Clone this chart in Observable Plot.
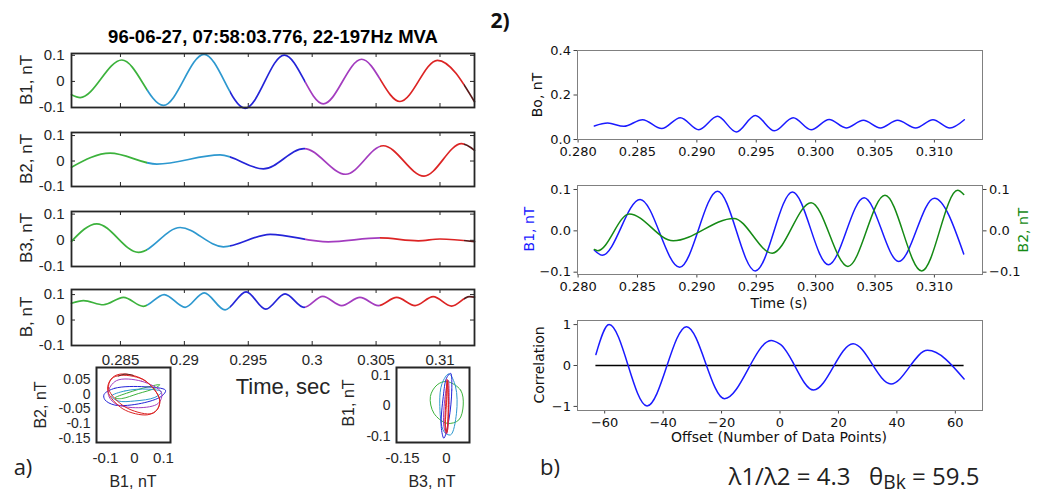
<!DOCTYPE html>
<html><head><meta charset="utf-8">
<script src="https://cdn.jsdelivr.net/npm/d3@7"></script>
<script src="https://cdn.jsdelivr.net/npm/@observablehq/plot@0.6"></script>
<style>
html,body{margin:0;padding:0;background:#fff;}
#root{position:relative;width:1043px;height:501px;overflow:hidden;background:#fff;}
.t{position:absolute;white-space:nowrap;line-height:1;}
.ml{font-family:"Liberation Sans",Arial,sans-serif;color:#262626;}
.mp{font-family:"DejaVu Sans",sans-serif;color:#111;}
.os{font-family:"Open Sans",sans-serif;color:#222;}
</style></head>
<body><div id="root"></div>
<script>
// ================= DATA =================
// colour segments (time order) used in panel a)
const segNames = ["s1", "s2", "s3", "s4", "s5", "s6"];
const segColors = ["#3cb23c", "#2d98cf", "#2424d8", "#a33cbf", "#dc2424", "#5a1a1a"];
const segBounds = [0.28117, 0.2871, 0.2936, 0.2994, 0.3053, 0.3119, 0.3127];

// panel a) axes
const timeDomainA = [0.28117, 0.3127];
const timeTicksA = [0.285, 0.29, 0.295, 0.3, 0.305, 0.31];
const fieldTicksA = [-0.1, 0, 0.1];

// panel a) waveforms (extrema read from the picture)
const b1Time = [0.28117, 0.28185, 0.28511, 0.28836, 0.29154, 0.29475, 0.29782, 0.30087, 0.30387, 0.30687, 0.3098, 0.3127];
const b1Val  = [-0.051, -0.062, 0.082, -0.092, 0.104, -0.103, 0.101, -0.086, 0.085, -0.077, 0.081, -0.078];
const b2Time = [0.28117, 0.28419, 0.28785, 0.2928, 0.29618, 0.29937, 0.30262, 0.30556, 0.30875, 0.31169, 0.3127];
const b2Val  = [-0.024, 0.031, -0.012, 0.024, -0.031, 0.049, -0.052, 0.060, -0.059, 0.068, 0.042];
const b3Time = [0.28117, 0.28315, 0.28641, 0.28967, 0.29305, 0.29671, 0.30126, 0.30531, 0.3083, 0.3100, 0.3127];
const b3Val  = [-0.004, 0.063, -0.046, 0.049, -0.025, 0.023, -0.006, 0.009, -0.002, 0.005, -0.005];
const bTime  = [0.28117, 0.28211, 0.28367, 0.28524, 0.2868, 0.28842, 0.29006, 0.29155, 0.29319, 0.29483, 0.29637, 0.29788, 0.29936, 0.30083, 0.30231, 0.30374, 0.30518, 0.30661, 0.30805, 0.30947, 0.31091, 0.3123, 0.3127];
const bVal   = [0.066, 0.076, 0.06, 0.089, 0.054, 0.1, 0.05, 0.107, 0.04, 0.111, 0.043, 0.103, 0.05, 0.093, 0.057, 0.089, 0.057, 0.089, 0.057, 0.092, 0.055, 0.092, 0.09];

// hodograms (loops): [segment, [[x, y], ...]]
const hodoB1B2 = [
  ["s1", [[-0.068,-0.013],[-0.022,0.005],[0.047,0.025],[0.087,0.032],[0.07,0.02],[0.013,0.002],[-0.045,-0.015]]],
  ["s2", [[-0.079,-0.007],[-0.033,0.011],[0.047,0.017],[0.093,0.008],[0.07,-0.011],[0.001,-0.023],[-0.056,-0.023]]],
  ["s3", [[-0.105,-0.001],[-0.068,0.02],[0.036,0.025],[0.107,0.013],[0.093,-0.007],[0.024,-0.031],[-0.068,-0.037],[-0.102,-0.019]]],
  ["s4", [[-0.062,0.046],[0.024,0.044],[0.093,0.005],[0.082,-0.031],[0.013,-0.046],[-0.068,-0.031],[-0.091,0.005]]],
  ["s5", [[-0.045,0.064],[0.036,0.046],[0.087,-0.019],[0.076,-0.055],[0.053,-0.067],[-0.033,-0.043],[-0.089,0.017],[-0.079,0.052]]],
  ["s5", [[-0.05,0.068],[0.03,0.05],[0.085,-0.012],[0.08,-0.05],[0.045,-0.07],[-0.04,-0.05],[-0.092,0.01],[-0.082,0.05]]]
];
const hodoB1B2Tail = [[-0.056,0.061],[-0.033,0.068],[-0.005,0.064]];
const hodoB3B1 = [
  ["s1", [[0.001,0.08],[0.048,0.052],[0.057,0.003],[0.042,-0.046],[0.002,-0.057],[-0.043,-0.024],[-0.055,0.031],[-0.032,0.069]]],
  ["s2", [[0.008,0.105],[0.031,0.063],[0.034,-0.024],[0.014,-0.095],[-0.009,-0.084],[-0.023,0.009],[-0.015,0.074]]],
  ["s3", [[0.014,0.107],[0.018,0.052],[0.008,-0.046],[-0.009,-0.106],[-0.018,-0.068],[-0.011,0.031],[0,0.091]]],
  ["s4", [[0.006,0.085],[0.009,0.009],[0,-0.092],[-0.009,-0.068],[-0.006,0.02]]],
  ["s5", [[0.002,0.087],[0.006,-0.002],[0,-0.09],[-0.005,-0.068],[-0.002,0.02]]],
  ["s5", [[0.004,0.08],[0.007,0],[0.002,-0.085],[-0.003,-0.07],[0,0.01]]]
];
const hodo1XTicks = [-0.1, 0, 0.1];
const hodo1YTicks = [-0.15, -0.1, -0.05, 0, 0.05];
const hodo2XTicks = [-0.15, 0];
const hodo2YTicks = [-0.1, 0, 0.1];

// panel b) axes
const timeDomainB = [0.27995, 0.31405];
const timeTicksB = [0.280, 0.285, 0.290, 0.295, 0.300, 0.305, 0.310];
const boTicks = [0.0, 0.2, 0.4];
const bTicksB = [-0.1, 0.0, 0.1];
const lagTicks = [-60, -40, -20, 0, 20, 40, 60];
const corrTicks = [-1, 0, 1];

// panel b) series (extrema read from the picture)
const boTime = [0.28137, 0.28249, 0.28385, 0.28543, 0.28704, 0.28861, 0.29016, 0.29174, 0.29332, 0.29492, 0.29653, 0.29811, 0.29962, 0.30114, 0.30257, 0.30402, 0.30545, 0.30690, 0.30842, 0.30988, 0.31130, 0.31252];
const boVal  = [0.061, 0.074, 0.059, 0.089, 0.049, 0.098, 0.044, 0.104, 0.034, 0.108, 0.039, 0.098, 0.044, 0.090, 0.052, 0.086, 0.052, 0.086, 0.052, 0.089, 0.052, 0.089];
const rB1Time = [0.28137, 0.28203, 0.28522, 0.28855, 0.29174, 0.29492, 0.29805, 0.30108, 0.30408, 0.30700, 0.31, 0.31247];
const rB1Val  = [-0.047, -0.059, 0.076, -0.088, 0.096, -0.097, 0.094, -0.082, 0.080, -0.074, 0.079, -0.056];
const rB2Time = [0.28137, 0.28165, 0.28431, 0.28801, 0.29311, 0.29635, 0.29962, 0.30272, 0.30584, 0.30893, 0.31196, 0.31247];
const rB2Val  = [-0.045, -0.048, 0.041, -0.024, 0.030, -0.054, 0.068, -0.086, 0.086, -0.097, 0.098, 0.088];
const corrLag = [-63, -58.5, -45.5, -32, -19, -3, 0, 11.5, 25, 38, 50.5, 63];
const corrVal = [0.27, 1.0, -0.99, 0.95, -0.81, 0.61, 0.52, -0.6, 0.53, -0.45, 0.37, -0.33];

// ================= RENDER =================
const root = document.getElementById("root");
function place(svg, left, top) {
  const w = +svg.getAttribute("width"), h = +svg.getAttribute("height");
  const d = document.createElement("div");
  d.style.cssText = `position:absolute;left:${left}px;top:${top}px;width:${w}px;height:${h}px;`;
  svg.style.maxWidth = "none";
  svg.style.background = "transparent";
  d.appendChild(svg);
  root.appendChild(d);
}
function text(html, x, y, cls, css = "", rot = 0) {
  const d = document.createElement("div");
  d.className = "t " + cls;
  d.innerHTML = html;
  d.style.cssText += `left:${x}px;top:${y}px;transform:translate(-50%,-50%)${rot ? ` rotate(${rot}deg)` : ""};` + css;
  root.appendChild(d);
}
const zip = (a, b) => a.map((v, i) => ({t: v, v: b[i]}));

const styleA = {fontFamily: '"Liberation Sans", Arial, sans-serif', fontSize: "15px", color: "#262626", background: "transparent", overflow: "visible"};
const styleH = {...styleA, fontSize: "13px"};
const styleB = {fontFamily: '"DejaVu Sans", sans-serif', fontSize: "13px", color: "#111", background: "transparent", overflow: "visible"};

// ---- panel a) time series ----
const AX0 = 71, AX1 = 474;
function tsPanel(times, vals, yDom, top, bottom, showX, gid) {
  const mL = 50, mR = 8, mT = 4, mB = showX ? 30 : 4;
  const fw = AX1 - AX0, fh = bottom - top;
  const p = Plot.plot({
    width: mL + fw + mR, height: mT + fh + mB,
    marginLeft: mL, marginRight: mR, marginTop: mT, marginBottom: mB,
    x: {domain: timeDomainA, axis: null}, y: {domain: yDom, axis: null},
    style: styleA,
    marks: [
      Plot.ruleX(timeTicksA, {insetTop: fh - 4, stroke: "#262626"}),
      Plot.ruleX(timeTicksA, {insetBottom: fh - 4, stroke: "#262626"}),
      Plot.ruleY(fieldTicksA, {insetRight: fw - 4, stroke: "#262626"}),
      Plot.ruleY(fieldTicksA, {insetLeft: fw - 4, stroke: "#262626"}),
      Plot.axisY(fieldTicksA, {tickSize: 0, tickPadding: 7, tickFormat: d => String(d), label: null}),
      showX ? Plot.axisX(timeTicksA, {tickSize: 0, tickPadding: 9, tickFormat: d => String(d), label: null}) : null,
      Plot.line(zip(times, vals), {x: "t", y: "v", curve: "monotone-x", stroke: `url(#${gid})`, strokeWidth: 1.7}),
      Plot.frame({stroke: "#262626", strokeWidth: 1.8})
    ]
  });
  const sx = p.scale("x");
  const x1 = sx.apply(segBounds[0]), x2 = sx.apply(segBounds[segBounds.length - 1]);
  const g = d3.select(p).insert("defs", ":first-child").append("linearGradient")
    .attr("id", gid).attr("gradientUnits", "userSpaceOnUse")
    .attr("x1", x1).attr("x2", x2).attr("y1", 0).attr("y2", 0);
  segColors.forEach((c, i) => {
    g.append("stop").attr("offset", (sx.apply(segBounds[i]) - x1) / (x2 - x1)).attr("stop-color", c);
    g.append("stop").attr("offset", (sx.apply(segBounds[i + 1]) - x1) / (x2 - x1)).attr("stop-color", c);
  });
  place(p, AX0 - mL, top - mT);
}
tsPanel(b1Time, b1Val, [-0.1, 0.107], 53, 107, false, "ga1");
tsPanel(b2Time, b2Val, [-0.1, 0.112], 132, 186, false, "ga2");
tsPanel(b3Time, b3Val, [-0.1, 0.11], 211, 266, false, "ga3");
tsPanel(bTime, bVal, [-0.1, 0.12], 289, 345, true, "ga4");

// ---- hodograms ----
function hodo(loops, tail, xDom, yDom, xTicks, yTicks, fx0, fx1, fy0, fy1) {
  const mL = 50, mR = 6, mT = 4, mB = 26;
  const fw = fx1 - fx0, fh = fy1 - fy0;
  const rows = [];
  loops.forEach(([s, pts], k) => pts.forEach(([x, y]) => rows.push({loop: k, s, x, y})));
  const tailRows = (tail || []).map(([x, y]) => ({s: "s6", x, y}));
  const p = Plot.plot({
    width: mL + fw + mR, height: mT + fh + mB,
    marginLeft: mL, marginRight: mR, marginTop: mT, marginBottom: mB,
    x: {domain: xDom, axis: null}, y: {domain: yDom, axis: null},
    color: {domain: segNames, range: segColors},
    style: styleH,
    marks: [
      Plot.axisY(yTicks, {tickSize: 0, tickPadding: 6, tickFormat: d => String(d), label: null, fontSize: 14}),
      Plot.axisX(xTicks, {tickSize: 0, tickPadding: 10, tickFormat: d => String(d), label: null, fontSize: 15}),
      Plot.line(rows, {x: "x", y: "y", z: "loop", stroke: "s", curve: "catmull-rom-closed", strokeWidth: 1, clip: true}),
      Plot.line(tailRows, {x: "x", y: "y", stroke: "s", curve: "catmull-rom", strokeWidth: 1}),
      Plot.frame({stroke: "#262626", strokeWidth: 2})
    ]
  });
  place(p, fx0 - mL, fy0 - mT);
}
hodo(hodoB1B2, hodoB1B2Tail, [-0.131, 0.124], [-0.164, 0.0905], hodo1XTicks, hodo1YTicks, 96, 170, 367, 442);
hodo(hodoB3B1, null, [-0.1705, 0.0784], [-0.12, 0.126], hodo2XTicks, hodo2YTicks, 396, 469, 367, 442);

// ---- panel b) ----
const BX0 = 577, BX1 = 982;
const minus = d => (d < 0 ? "\u2212" + (-d) : String(d));
{
  const mL = 60, mR = 10, mT = 8, mB = 28, fw = BX1 - BX0, fh = 89;
  const p = Plot.plot({
    width: mL + fw + mR, height: mT + fh + mB, marginLeft: mL, marginRight: mR, marginTop: mT, marginBottom: mB,
    x: {domain: timeDomainB, axis: null}, y: {domain: [0, 0.4], axis: null}, style: styleB,
    marks: [
      Plot.axisX(timeTicksB, {tickSize: 3.5, tickPadding: 3.5, tickFormat: d3.format(".3f"), label: null, stroke: "#444"}),
      Plot.axisY(boTicks, {tickSize: 3.5, tickPadding: 3, tickFormat: d3.format(".1f"), label: null, stroke: "#444"}),
      Plot.line(zip(boTime, boVal), {x: "t", y: "v", curve: "monotone-x", stroke: "#1a1aff", strokeWidth: 1.5}),
      Plot.frame({stroke: "#808080"})
    ]
  });
  place(p, BX0 - mL, 50 - mT);
}
{
  const mL = 60, mR = 10, mT = 8, mB = 28, fw = BX1 - BX0, fh = 89;
  const p = Plot.plot({
    width: mL + fw + mR, height: mT + fh + mB, marginLeft: mL, marginRight: mR, marginTop: mT, marginBottom: mB,
    x: {domain: timeDomainB, axis: null}, y: {domain: [-0.1056, 0.1097], axis: null}, style: styleB,
    marks: [
      Plot.axisX(timeTicksB, {tickSize: 3.5, tickPadding: 3.5, tickFormat: d3.format(".3f"), label: null, stroke: "#444"}),
      Plot.axisY(bTicksB, {tickSize: 3.5, tickPadding: 3, tickFormat: d3.format(".1f"), label: null, stroke: "#444"}),
      Plot.axisY(bTicksB, {anchor: "right", tickSize: 3.5, tickPadding: 3, tickFormat: d3.format(".1f"), label: null, stroke: "#444"}),
      Plot.line(zip(rB1Time, rB1Val), {x: "t", y: "v", curve: "monotone-x", stroke: "#1a1aff", strokeWidth: 1.5}),
      Plot.line(zip(rB2Time, rB2Val), {x: "t", y: "v", curve: "monotone-x", stroke: "#158a15", strokeWidth: 1.5}),
      Plot.frame({stroke: "#808080"})
    ]
  });
  place(p, BX0 - mL, 185 - mT);
}
{
  const mL = 60, mR = 10, mT = 8, mB = 28, fw = BX1 - BX0, fh = 90;
  const p = Plot.plot({
    width: mL + fw + mR, height: mT + fh + mB, marginLeft: mL, marginRight: mR, marginTop: mT, marginBottom: mB,
    x: {domain: [-69.3, 69.3], axis: null}, y: {domain: [-1.1, 1.1], axis: null}, style: styleB,
    marks: [
      Plot.axisX(lagTicks, {tickSize: 3.5, tickPadding: 3.5, tickFormat: minus, label: null, stroke: "#444"}),
      Plot.axisY(corrTicks, {tickSize: 3.5, tickPadding: 3, tickFormat: minus, label: null, stroke: "#444"}),
      Plot.ruleY([0], {x1: corrLag[0], x2: corrLag[corrLag.length - 1], stroke: "#000", strokeWidth: 1.3}),
      Plot.line(zip(corrLag, corrVal), {x: "t", y: "v", curve: "monotone-x", stroke: "#1a1aff", strokeWidth: 1.5}),
      Plot.frame({stroke: "#808080"})
    ]
  });
  place(p, BX0 - mL, 320 - mT);
}

// ---- texts ----
text("96-06-27, 07:58:03.776, 22-197Hz MVA", 273, 37, "ml", "font-weight:bold;font-size:18.5px;color:#000;");
text("B1, nT", 26, 80, "ml", "font-size:17px;", -90);
text("B2, nT", 26, 159, "ml", "font-size:17px;", -90);
text("B3, nT", 26, 238, "ml", "font-size:17px;", -90);
text("B, nT", 26, 317, "ml", "font-size:17px;", -90);
text("Time, sec", 283, 387, "ml", "font-size:22px;");
text("B2, nT", 41, 405, "ml", "font-size:16px;", -90);
text("B1, nT", 133, 482, "ml", "font-size:16px;");
text("B1, nT", 349, 403, "ml", "font-size:16px;", -90);
text("B3, nT", 432, 482, "ml", "font-size:16px;");
text("a)", 23, 466, "os", "font-size:22px;");
text("2)", 500, 20, "os", "font-size:21px;font-weight:bold;color:#111;");
text("b)", 550, 466, "os", "font-size:22px;");
text("Bo, nT", 537, 95, "mp", "font-size:14px;", -90);
text("B1, nT", 529, 229, "mp", "font-size:14px;color:#1a1aff;", -90);
text("B2, nT", 1023, 230, "mp", "font-size:14px;color:#158a15;", -90);
text("Time (s)", 779, 303, "mp", "font-size:14px;");
text("Correlation", 539, 365, "mp", "font-size:14px;", -90);
text("Offset (Number of Data Points)", 779, 437, "mp", "font-size:14px;");
text("λ1/λ2 = 4.3&nbsp;&nbsp;&nbsp;θ<sub style=\"font-size:0.8em;vertical-align:-0.2em;line-height:0\">Bk</sub> = 59.5", 854, 478, "os", "font-size:24px;padding-bottom:4px;");
</script>
</body></html>
